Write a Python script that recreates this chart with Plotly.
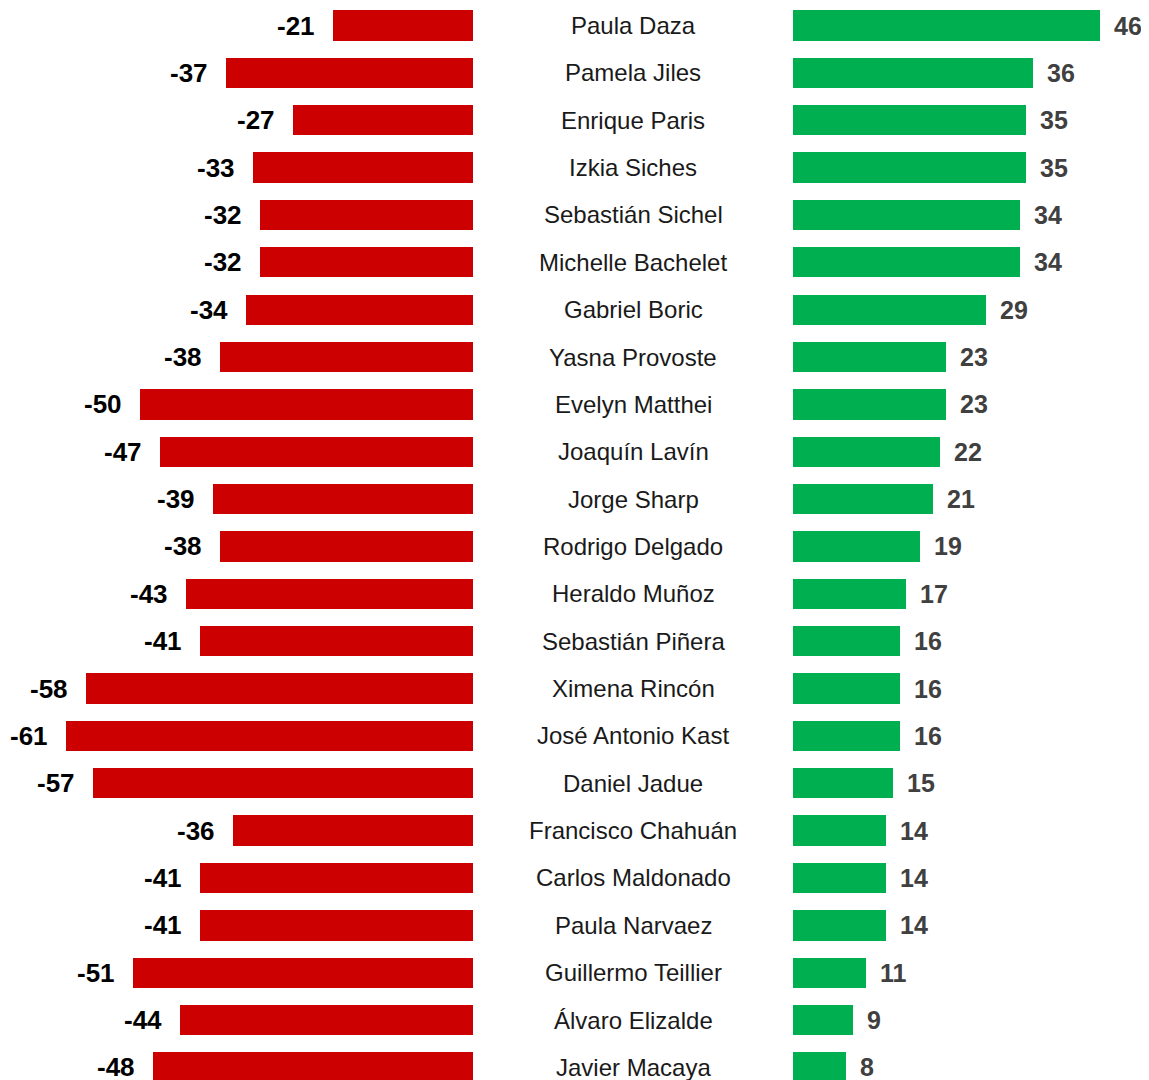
import plotly.graph_objects as go

nombres = [
    "Paula Daza", "Pamela Jiles", "Enrique Paris", "Izkia Siches", "Sebastián Sichel",
    "Michelle Bachelet", "Gabriel Boric", "Yasna Provoste", "Evelyn Matthei", "Joaquín Lavín",
    "Jorge Sharp", "Rodrigo Delgado", "Heraldo Muñoz", "Sebastián Piñera", "Ximena Rincón",
    "José Antonio Kast", "Daniel Jadue", "Francisco Chahuán", "Carlos Maldonado", "Paula Narvaez",
    "Guillermo Teillier", "Álvaro Elizalde", "Javier Macaya",
]
negativos = [-21, -37, -27, -33, -32, -32, -34, -38, -50, -47, -39, -38, -43, -41, -58,
             -61, -57, -36, -41, -41, -51, -44, -48]
positivos = [46, 36, 35, 35, 34, 34, 29, 23, 23, 22, 21, 19, 17, 16, 16,
             16, 15, 14, 14, 14, 11, 9, 8]

ROJO = "#CC0000"
VERDE = "#00B050"
OFF = 8  # margen del body de la página
W, H = 1149 - OFF, 1080 - OFF
px_unidad = 6.67  # pixeles por punto, igual en ambos lados
FUENTE = "Liberation Sans, Arial"

fig = go.Figure()
fig.add_trace(go.Bar(y=nombres, x=negativos, orientation="h", marker=dict(color=ROJO, line_width=0),
                     width=0.64, xaxis="x", yaxis="y", hoverinfo="skip"))
fig.add_trace(go.Bar(y=nombres, x=positivos, orientation="h", marker=dict(color=VERDE, line_width=0),
                     width=0.64, xaxis="x2", yaxis="y", hoverinfo="skip"))

# etiquetas de valores
for n, v in zip(nombres, negativos):
    fig.add_annotation(x=v, y=n, xref="x", yref="y", text=f"<b>{v}</b>", showarrow=False,
                       xanchor="right", xshift=-16, font=dict(size=26, color="#000000", family=FUENTE))
for n, v in zip(nombres, positivos):
    fig.add_annotation(x=v, y=n, xref="x2", yref="y", text=f"<b>{v}</b>", showarrow=False,
                       xanchor="left", xshift=12, font=dict(size=25, color="#404040", family=FUENTE))
# nombres al centro
for n in nombres:
    fig.add_annotation(x=(633 - OFF) / W, y=n, xref="paper", yref="y", text=n, showarrow=False,
                       xanchor="center", font=dict(size=24, color="#1a1a1a", family=FUENTE))

x_izq, x_der0 = 473 - OFF, 793 - OFF
fila = 47.36
y0 = -(25.5 - OFF) / fila
fig.update_layout(
    width=W, height=H,
    margin=dict(l=0, r=0, t=0, b=0),
    plot_bgcolor="white", paper_bgcolor="white",
    showlegend=False, bargap=0,
    xaxis=dict(domain=[0, x_izq / W], range=[-x_izq / px_unidad, 0], visible=False, fixedrange=True),
    xaxis2=dict(domain=[x_der0 / W, 1], range=[0, (W - x_der0) / px_unidad], visible=False, fixedrange=True),
    yaxis=dict(range=[y0 + H / fila, y0], visible=False, fixedrange=True),
)

fig.write_html("out.html")
